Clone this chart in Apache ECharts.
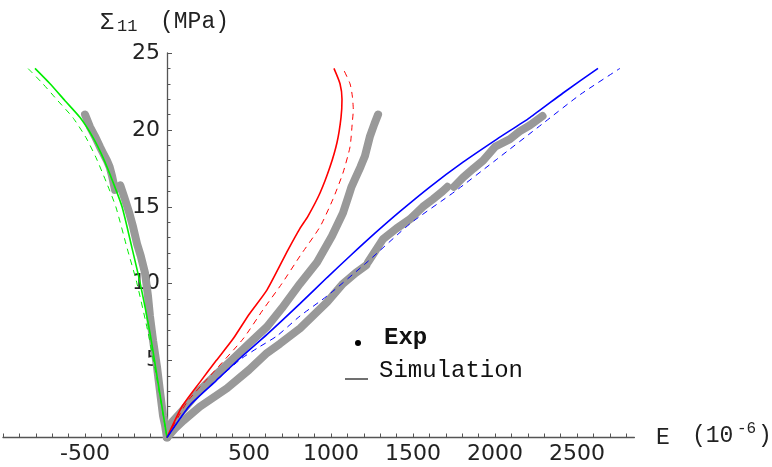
<!DOCTYPE html>
<html>
<head>
<meta charset="utf-8">
<script src="https://cdn.jsdelivr.net/npm/echarts@6/dist/echarts.min.js"></script>
<style>
html,body{margin:0;padding:0;background:#fff;}
#chart{width:772px;height:467px;}
</style>
</head>
<body>
<div id="chart"></div>
<script>
// ---- tick labels ----
const xTickLabels = [-500, 500, 1000, 1500, 2000, 2500];
const yTickLabels = [5, 10, 15, 20, 25];

// ---- experimental data (gray bands), strain (1e-6) vs stress (MPa) ----
const expTransA = [[0,0],[-12,0.8],[-24,1.4],[-45,3.2],[-61,4.6],[-85,6.3],[-104,7.9],[-116,9.2],[-134,10.7],[-160,11.8],[-183,12.6],[-207,13.7],[-230,14.6],[-260,15.6],[-285,16.4]];
const expTransB = [[-317,16.1],[-335,17.0],[-350,17.6],[-366,18.0],[-390,18.5],[-409,18.9],[-440,19.6],[-470,20.2],[-500,21.0]];
const expMid = [[0,0],[30,1.0],[98,1.8],[201,3.1],[300,4.1],[402,5.1],[500,6.1],[610,7.2],[700,8.4],[811,10.0],[915,11.4],[1006,13.1],[1073,14.6],[1110,15.8],[1125,16.3],[1146,16.8],[1180,17.6],[1207,18.3],[1238,19.6],[1265,20.4],[1287,21.0]];
const expLowA = [[0,0],[50,0.6],[100,1.1],[200,2.0],[366,3.2],[500,4.4],[610,5.5],[689,6.1],[811,7.1],[976,8.8],[1073,10.0],[1150,10.7],[1215,11.2]];
const expLowB = [[1226,11.4],[1317,12.9],[1400,13.6],[1482,14.2],[1560,15.0],[1622,15.5],[1680,16.0],[1710,16.3]];
const expLowC = [[1750,16.3],[1805,16.9],[1870,17.5],[1927,18.0],[2000,18.9],[2091,19.4],[2150,19.9],[2213,20.3],[2290,20.9]];

// ---- simulations ----
const greenSolid = [[0,0],[-55,3.6],[-104,6.8],[-165,10.1],[-213,12.3],[-274,15.0],[-329,16.6],[-390,18.2],[-451,19.5],[-530,20.8],[-622,21.9],[-713,23.0],[-805,24.0]];
const greenDashed = [[0,0],[-58,3.6],[-115,6.8],[-185,10.1],[-243,12.3],[-312,15.0],[-370,16.6],[-433,18.2],[-494,19.5],[-574,20.8],[-666,21.9],[-757,23.0],[-848,24.0]];
const redSolid = [[0,0],[91,2.0],[201,3.6],[300,5.0],[402,6.4],[500,8.0],[610,9.6],[738,12.2],[811,13.6],[860,14.4],[933,15.9],[994,17.6],[1037,19.2],[1061,20.8],[1067,22.0],[1055,23.0],[1018,24.0]];
const redDashed = [[0,0],[122,2.3],[262,4.0],[463,6.4],[585,8.3],[700,10.0],[811,11.8],[933,13.7],[1012,15.5],[1073,17.2],[1116,18.9],[1130,20.5],[1136,21.3],[1130,22.2],[1116,23.0],[1073,24.0]];
const blueSolid = [[0,0],[140,2.1],[300,3.7],[450,5.2],[610,6.7],[811,8.7],[976,10.4],[1116,11.8],[1270,13.3],[1421,14.7],[1604,16.3],[1805,17.9],[2012,19.4],[2213,20.8],[2415,22.4],[2628,24.0]];
const blueDashed = [[0,0],[140,2.1],[300,3.7],[450,5.1],[549,5.8],[670,6.6],[811,7.9],[976,9.2],[1220,11.4],[1482,13.9],[1756,16.0],[2000,18.0],[2290,20.4],[2520,22.3],[2762,24.0]];

const xMin = -1000, xMax = 2850;
const gridLeft = 3, gridRight = 137.6, W = 772;
const xTicks = [];
for (let v = xMin; v <= 2800; v += 100) xTicks.push(v);
// pixel offset of the x = 0 position from the grid's left edge (moves the y axis inward)
const yAxisShift = (0 - xMin) / (xMax - xMin) * (W - gridLeft - gridRight);

const chart = echarts.init(document.getElementById('chart'), null, {renderer: 'canvas'});

const expStyle = {color: '#999999', width: 8, cap: 'round', join: 'round'};
function expSeries(data) {
  return {type: 'line', data: data, showSymbol: false, symbol: 'none', lineStyle: expStyle, z: 2, silent: true};
}
function simSeries(data, color, dashed) {
  return {type: 'line', data: data, showSymbol: false, symbol: 'none', z: 3, silent: true, smooth: 0.2,
    lineStyle: {color: color, width: dashed ? 1 : 1.6, type: dashed ? [6, 5] : 'solid'}};
}

const mono = '"Liberation Mono", "DejaVu Sans Mono", monospace';
const sans = '"DejaVu Sans", sans-serif';

chart.setOption({
  animation: false,
  backgroundColor: '#ffffff',
  grid: {left: gridLeft, right: gridRight, top: 53, bottom: 29.5, containLabel: false, outerBoundsMode: 'none'},
  xAxis: {
    type: 'value', min: xMin, max: xMax, interval: 500,
    axisLine: {onZero: true, lineStyle: {color: '#555', width: 1.3}},
    axisTick: {show: true, inside: true, length: 4, customValues: xTicks, lineStyle: {color: '#555'}},
    minorTick: {show: false},
    splitLine: {show: false},
    axisLabel: {customValues: xTickLabels, margin: 6, color: '#222', fontFamily: sans, fontSize: 22,
      formatter: v => String(v)}
  },
  yAxis: {
    type: 'value', min: 0, max: 25, interval: 5, position: 'left', offset: -yAxisShift,
    axisLine: {onZero: false, lineStyle: {color: '#555', width: 1.3}},
    axisTick: {show: true, inside: true, length: 5, lineStyle: {color: '#555'}},
    minorTick: {show: true, splitNumber: 5, length: 3.5, lineStyle: {color: '#555'}},
    splitLine: {show: false},
    axisLabel: {customValues: yTickLabels, margin: 7, color: '#222', fontFamily: sans, fontSize: 22,
      formatter: v => String(v)}
  },
  series: [
    expSeries(expTransA), expSeries(expTransB), expSeries(expMid),
    expSeries(expLowA), expSeries(expLowB), expSeries(expLowC),
    simSeries(greenSolid, '#00ee00', false), simSeries(greenDashed, '#00ee00', true),
    simSeries(redSolid, '#ff0000', false), simSeries(redDashed, '#ff0000', true),
    simSeries(blueSolid, '#0000ff', false), simSeries(blueDashed, '#0000ff', true)
  ],
  graphic: [
    {type: 'text', x: 100, y: 22.5, style: {text: 'Σ', font: '23px ' + mono, fill: '#222', verticalAlign: 'middle'}},
    {type: 'text', x: 117, y: 26, style: {text: '11', font: '17px ' + mono, fill: '#222', verticalAlign: 'middle'}},
    {type: 'text', x: 160, y: 22, style: {text: '(MPa)', font: '23px ' + mono, fill: '#222', verticalAlign: 'middle'}},
    {type: 'text', x: 656, y: 437.5, style: {text: 'E', font: '23px ' + mono, fill: '#222', verticalAlign: 'middle'}},
    {type: 'text', x: 692, y: 436, style: {text: '(10', font: '23px ' + mono, fill: '#222', verticalAlign: 'middle'}},
    {type: 'text', x: 737, y: 429, style: {text: '-6', font: '16px ' + mono, fill: '#222', verticalAlign: 'middle'}},
    {type: 'text', x: 758, y: 436, style: {text: ')', font: '23px ' + mono, fill: '#222', verticalAlign: 'middle'}},
    {type: 'circle', shape: {cx: 358, cy: 343, r: 3}, style: {fill: '#000'}},
    {type: 'text', x: 384, y: 338, style: {text: 'Exp', font: 'bold 24px ' + mono, fill: '#111', verticalAlign: 'middle'}},
    {type: 'line', shape: {x1: 345, y1: 379, x2: 368, y2: 379}, style: {stroke: '#111', lineWidth: 1.2}},
    {type: 'text', x: 379, y: 371, style: {text: 'Simulation', font: '24px ' + mono, fill: '#111', verticalAlign: 'middle'}}
  ]
});
</script>
</body>
</html>
